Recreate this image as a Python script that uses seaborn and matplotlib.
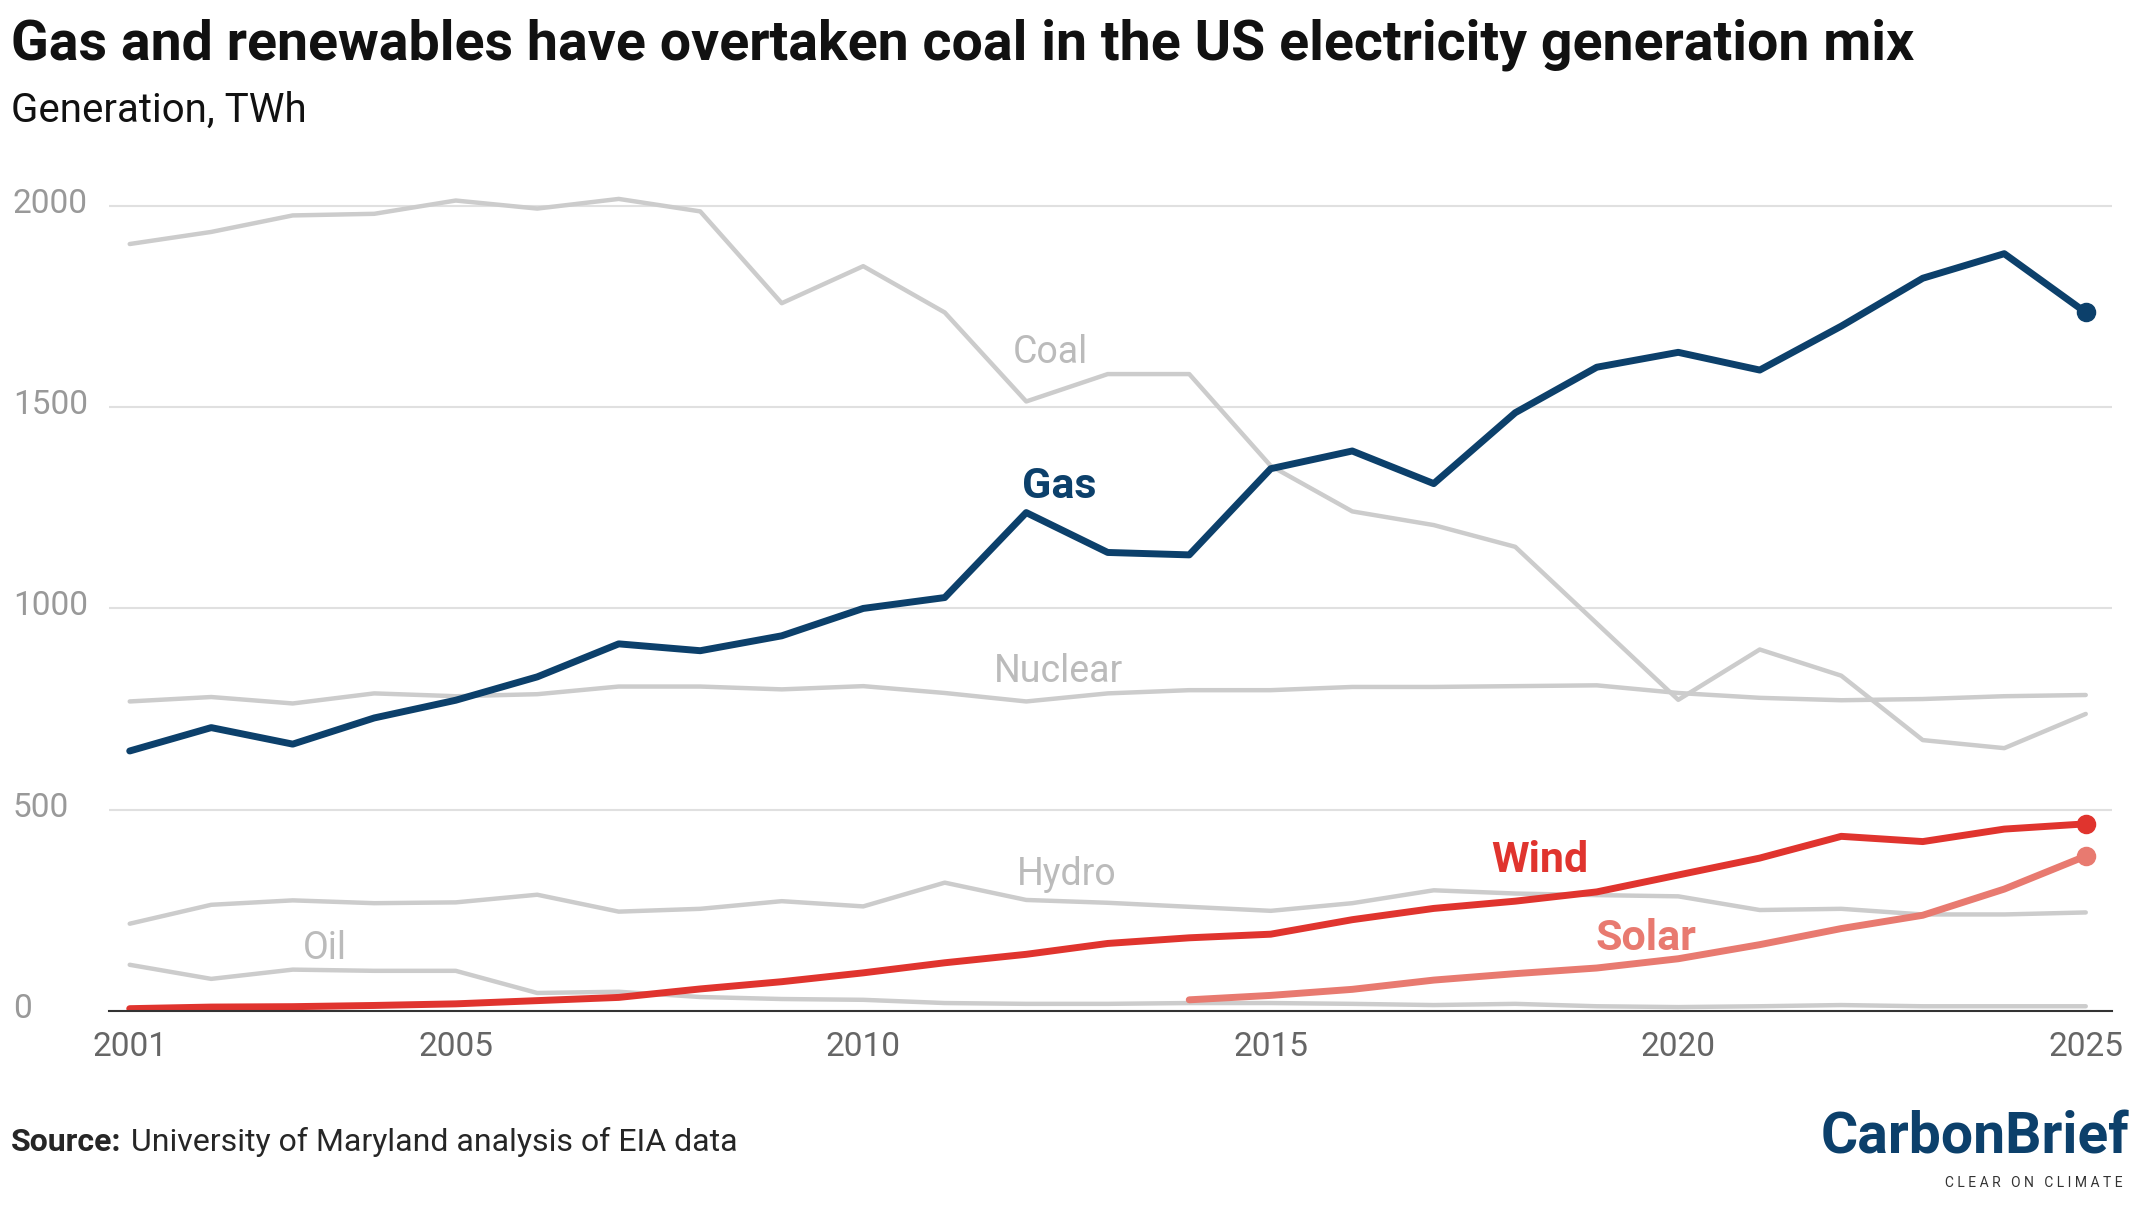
import matplotlib
matplotlib.use("Agg")
import matplotlib.pyplot as plt
import matplotlib.transforms as mt
import seaborn as sns

years = list(range(2001, 2026))
coal = [1905,1935,1976,1980,2013,1993,2017,1986,1758,1850,1735,1514,1582,1582,1354,1241,1207,1153,963,773,898,833,673,653,738]
gas = [646,704,663,728,772,830,912,895,932,1000,1027,1238,1139,1133,1347,1391,1310,1486,1599,1636,1592,1701,1820,1881,1735]
nuclear = [769,780,764,789,782,787,806,806,799,807,790,769,789,797,797,805,805,807,809,790,778,772,775,782,785]
hydro = [217,264,275,268,270,289,247,254,273,260,319,276,269,259,249,268,300,292,288,285,251,254,240,240,245]
oil = [115,80,103,100,100,45,48,35,30,28,20,18,18,20,20,18,15,18,12,10,12,15,12,12,12]
wind = [6,10,11,14,18,26,34,55,73,95,120,141,168,182,191,227,255,273,296,338,380,434,421,452,465]
solar_years = list(range(2014, 2026))
solar = [28,39,54,77,93,107,130,165,205,238,303,385]
yticks = [0, 500, 1000, 1500, 2000]
xticks = [2001, 2005, 2010, 2015, 2020, 2025]

sns.set_theme(style="white")
plt.rcParams['font.family'] = ['Roboto', 'DejaVu Sans']

fig = plt.figure(figsize=(21.44, 12.08), dpi=100)
ax = fig.add_axes([0.051, 0.163, 0.934, 0.70])

grey = "#cccccc"
navy = "#0c406b"
red = "#e0342e"
pink = "#e87a70"

for s in [coal, nuclear, hydro, oil]:
    sns.lineplot(x=years, y=s, ax=ax, color=grey, lw=3.2)
sns.lineplot(x=years, y=wind, ax=ax, color=red, lw=5)
sns.lineplot(x=solar_years, y=solar, ax=ax, color=pink, lw=5)
sns.lineplot(x=years, y=gas, ax=ax, color=navy, lw=5)
ax.scatter([years[-1]], [gas[-1]], color=navy, s=170, zorder=5)
ax.scatter([years[-1]], [wind[-1]], color=red, s=170, zorder=5)
ax.scatter([solar_years[-1]], [solar[-1]], color=pink, s=170, zorder=5)

ax.set_xlim(2000.75, 2025.32)
ax.set_ylim(0, 2100)
ax.set_yticks(yticks)
ax.set_xticks(xticks)
ax.set_yticklabels([])
ax.yaxis.grid(True, color="#e0e0e0", lw=1.5)
ax.set_axisbelow(True)
for sp in ["top", "right", "left"]:
    ax.spines[sp].set_visible(False)
ax.spines["bottom"].set_color("#333333")
ax.spines["bottom"].set_linewidth(1.5)
ax.tick_params(axis="x", length=8, width=1.5, color="#333333", labelsize=24, labelcolor="#666666", pad=6)
ax.tick_params(axis="y", length=0)
tr = mt.blended_transform_factory(fig.transFigure, ax.transData)
for v in yticks:
    ax.text(0.006, v + 5, str(v), transform=tr, ha="left", va="center", fontsize=24, color="#999999")

lbl = dict(ha="center", va="center", fontsize=27)
ax.text(2012.3, 1636, "Coal", color="#bbbbbb", **lbl)
ax.text(2012.4, 843, "Nuclear", color="#bbbbbb", **lbl)
ax.text(2012.5, 340, "Hydro", color="#bbbbbb", **lbl)
ax.text(2003.4, 156, "Oil", color="#bbbbbb", **lbl)
lblb = dict(ha="center", va="center", fontsize=31, fontweight="bold")
ax.text(2012.4, 1303, "Gas", color=navy, **lblb)
ax.text(2018.3, 374, "Wind", color=red, **lblb)
ax.text(2019.6, 180, "Solar", color=pink, **lblb)

fig.text(0.005, 0.963, "Gas and renewables have overtaken coal in the US electricity generation mix",
         fontsize=40, fontweight="bold", va="center", ha="left", color="#111111")
fig.text(0.005, 0.909, "Generation, TWh", fontsize=29, va="center", ha="left", color="#111111")
fig.text(0.005, 0.055, "Source:", fontsize=23, fontweight="bold", va="center", ha="left")
fig.text(0.061, 0.055, "University of Maryland analysis of EIA data", fontsize=23, va="center", ha="left")
fig.text(0.993, 0.058, "CarbonBrief", fontsize=41, fontweight="bold", color=navy, va="center", ha="right")
fig.text(0.99, 0.021, "C L E A R   O N   C L I M A T E", fontsize=10, color="#333333", va="center", ha="right")

fig.savefig("out.png", dpi=100, facecolor="white")
